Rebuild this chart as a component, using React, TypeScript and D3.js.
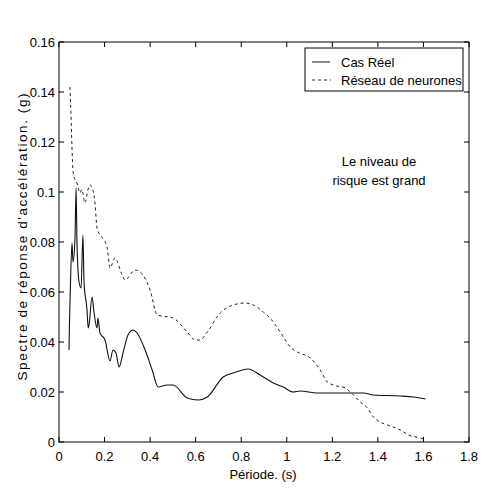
import React from "react";
import * as d3 from "d3";

const realX = [0.044, 0.046, 0.05, 0.057, 0.0615, 0.07, 0.075, 0.079, 0.088, 0.097, 0.105, 0.11, 0.123, 0.128, 0.132, 0.145, 0.154, 0.167, 0.171, 0.18, 0.202, 0.224, 0.237, 0.25, 0.264, 0.281, 0.303, 0.325, 0.343, 0.378, 0.409, 0.435, 0.475, 0.501, 0.563, 0.611, 0.651, 0.721, 0.765, 0.831, 0.883, 0.941, 0.985, 1.028, 1.059, 1.134, 1.336, 1.38, 1.499, 1.556, 1.609];
const realY = [0.0368, 0.0476, 0.062, 0.0796, 0.072, 0.0808, 0.1016, 0.0796, 0.064, 0.0616, 0.0828, 0.0636, 0.0528, 0.0456, 0.047, 0.058, 0.0516, 0.0456, 0.0496, 0.0436, 0.0408, 0.0324, 0.0368, 0.0356, 0.03, 0.0356, 0.0428, 0.0448, 0.0436, 0.0368, 0.0288, 0.022, 0.0228, 0.0228, 0.0176, 0.0168, 0.018, 0.026, 0.0276, 0.0292, 0.0268, 0.0236, 0.022, 0.02, 0.0204, 0.0196, 0.0196, 0.0188, 0.0184, 0.018, 0.0172];

const nnX = [0.048, 0.053, 0.057, 0.062, 0.07, 0.079, 0.092, 0.1, 0.114, 0.127, 0.136, 0.149, 0.158, 0.167, 0.211, 0.224, 0.246, 0.277, 0.29, 0.334, 0.356, 0.4, 0.431, 0.501, 0.563, 0.598, 0.62, 0.651, 0.708, 0.765, 0.818, 0.853, 0.897, 0.941, 0.985, 1.015, 1.046, 1.103, 1.147, 1.178, 1.204, 1.257, 1.279, 1.323, 1.354, 1.38, 1.402, 1.455, 1.499, 1.534, 1.587, 1.6];
const nnY = [0.142, 0.13, 0.118, 0.108, 0.105, 0.1036, 0.0996, 0.101, 0.0956, 0.1008, 0.1028, 0.1008, 0.0956, 0.0856, 0.078, 0.0696, 0.0736, 0.0668, 0.0648, 0.0688, 0.068, 0.0608, 0.0508, 0.0496, 0.044, 0.0408, 0.0408, 0.044, 0.0516, 0.0548, 0.0556, 0.0548, 0.052, 0.048, 0.042, 0.038, 0.036, 0.0336, 0.0288, 0.024, 0.0228, 0.0216, 0.02, 0.016, 0.0136, 0.01, 0.0084, 0.0064, 0.0048, 0.0028, 0.0016, 0.0012];

const xTicks = [0, 0.2, 0.4, 0.6, 0.8, 1, 1.2, 1.4, 1.6, 1.8];
const yTicks = [0, 0.02, 0.04, 0.06, 0.08, 0.1, 0.12, 0.14, 0.16];
const seriesNames = ["Cas Réel", "Réseau de neurones"];
const xTitle = "Période. (s)";
const yTitle = "Spectre de réponse d'accélération. (g)";
const note = ["Le niveau de", "risque est grand"];

const W = 483, H = 490;
const L = 59, R = 469, T = 42, B = 442;
const font = "Arial, 'Liberation Sans', sans-serif";

export default function App() {
  const x = d3.scaleLinear().domain([0, 1.8]).range([L, R]);
  const y = d3.scaleLinear().domain([0, 0.16]).range([B, T]);
  const line = d3.line<[number, number]>().x(d => x(d[0])).y(d => y(d[1])).curve(d3.curveMonotoneX);
  const real = realX.map((v, i) => [v, realY[i]] as [number, number]);
  const nn = nnX.map((v, i) => [v, nnY[i]] as [number, number]);
  const fmt = (v: number) => String(+v.toFixed(2));
  const tk = 5;
  return (
    <svg width={W} height={H} style={{ position: "absolute", left: 0, top: 0, background: "#fff" }} fontFamily={font}>
      <rect x={0} y={0} width={W} height={H} fill="#fff" />
      <path d={line(nn) || ""} fill="none" stroke="#222" strokeWidth={1} strokeDasharray="3,3" />
      <path d={line(real) || ""} fill="none" stroke="#111" strokeWidth={1.1} />
      <rect x={L} y={T} width={R - L} height={B - T} fill="none" stroke="#000" strokeWidth={1} />
      {xTicks.map(t => (
        <g key={"x" + t}>
          <line x1={x(t)} x2={x(t)} y1={B} y2={B - tk} stroke="#000" />
          <line x1={x(t)} x2={x(t)} y1={T} y2={T + tk} stroke="#000" />
          <text x={x(t)} y={461} textAnchor="middle" fontSize={13}>{fmt(t)}</text>
        </g>
      ))}
      {yTicks.map(t => (
        <g key={"y" + t}>
          <line x1={L} x2={L + tk} y1={y(t)} y2={y(t)} stroke="#000" />
          <line x1={R} x2={R - tk} y1={y(t)} y2={y(t)} stroke="#000" />
          <text x={55} y={y(t) + 5} textAnchor="end" fontSize={13}>{fmt(t)}</text>
        </g>
      ))}
      <text x={263} y={479} textAnchor="middle" fontSize={13}>{xTitle}</text>
      <text transform={`translate(27,237) rotate(-90)`} textAnchor="middle" fontSize={13.5} textLength={287} lengthAdjust="spacing">{yTitle}</text>
      <rect x={305} y={48} width={158} height={43} fill="#fff" stroke="#000" strokeWidth={1} />
      <line x1={312} x2={330} y1={62} y2={62} stroke="#111" />
      <line x1={312} x2={331} y1={80} y2={80} stroke="#222" strokeDasharray="3,3" />
      <text x={341} y={66.5} fontSize={13}>{seriesNames[0]}</text>
      <text x={341} y={84.5} fontSize={13}>{seriesNames[1]}</text>
      <text x={379} y={166} textAnchor="middle" fontSize={13}>{note[0]}</text>
      <text x={379} y={185} textAnchor="middle" fontSize={13}>{note[1]}</text>
    </svg>
  );
}
